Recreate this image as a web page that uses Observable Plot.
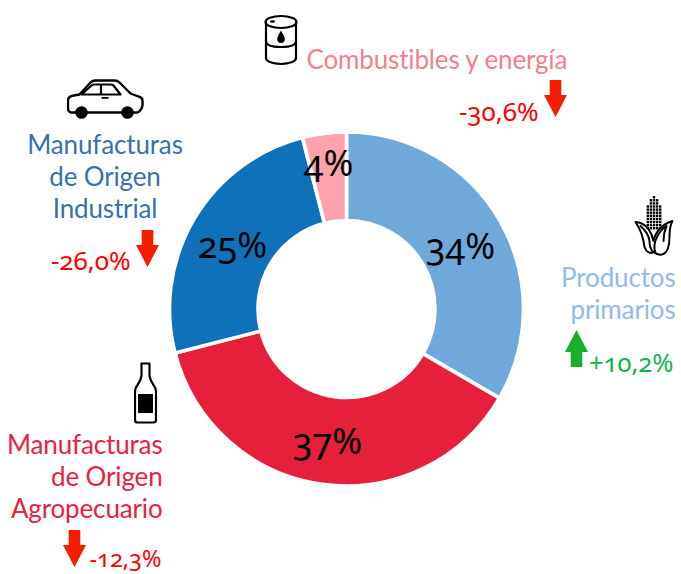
<!DOCTYPE html>
<html lang="es">
<head>
<meta charset="utf-8">
<script src="https://cdn.jsdelivr.net/npm/d3@7"></script>
<script src="https://cdn.jsdelivr.net/npm/@observablehq/plot@0.6"></script>
<style>
  html, body { margin: 0; padding: 0; background: #fff; }
  svg { display: block; }
  .num text { font-variant-numeric: oldstyle-nums; font-feature-settings: "onum" 1; }
  .name text { letter-spacing: -0.15px; }
</style>
</head>
<body>
<div id="chart"></div>
<script>
// ---- data ----
const categories = ["Productos primarios", "Manufacturas de Origen Agropecuario", "Manufacturas de Origen Industrial", "Combustibles y energía"];
const shares = [33.4, 37.6, 25, 4];
const shareLabels = ["34%", "37%", "25%", "4%"];
const changes = ["+10,2%", "-12,3%", "-26,0%", "-30,6%"];
const categoryLines = ["Productos\nprimarios", "Manufacturas\nde Origen\nAgropecuario", "Manufacturas\nde Origen\nIndustrial", "Combustibles y energía"];

// ---- styles and layout ----
const sliceColors = ["#6fa9dc", "#e61f3a", "#1071bb", "#ffa2ad"];
const nameColors = ["#8fbcea", "#e8223f", "#3b6eb5", "#f47f8e"];
const FONT = "Lato, sans-serif";
const NUMFONT = "'Noto Sans', sans-serif";
const center = [346.5, 309];
const radii = [88.5, 177];
const shareLayout = [[460, 258, 36], [327, 453, 36], [232, 257, 36], [328, 175, 36]];
const nameLayout = [
  {x: 675, y: 318, anchor: "end"},
  {x: 162, y: 517, anchor: "end"},
  {x: 104.5, y: 217, anchor: "middle"},
  {x: 306, y: 68, anchor: "start"}
];
const changeLayout = [
  {x: 673, y: 371, color: "#12b24c", size: 25.5},
  {x: 161, y: 566, color: "#ff0000", size: 23.5},
  {x: 130, y: 269, color: "#ff0000", size: 26},
  {x: 538, y: 120, color: "#ff0000", size: 26}
];
const arrowLayout = [
  {x: 576, top: 329, color: "#17b02c", up: true},
  {x: 74, top: 530, color: "#f51c00", up: false},
  {x: 147, top: 230, color: "#f51c00", up: false},
  {x: 555, top: 80, color: "#f51c00", up: false}
];

// ---- icons ----
const svgUri = (w, h, body) => "data:image/svg+xml," + encodeURIComponent(
  `<svg xmlns="http://www.w3.org/2000/svg" width="${w}" height="${h}" viewBox="0 0 ${w} ${h}">${body}</svg>`);
const line = (sw = 2.2) => `fill="none" stroke="#000" stroke-width="${sw}" stroke-linejoin="round" stroke-linecap="round"`;
const carIcon = svgUri(78, 42, `
  <path ${line(2.4)} d="M10 34 H4 Q1.500 33 1.500 30 V21 Q2 18 7 17 L13 16 L24 4 Q26 2 29 2 H48 Q51 2 53 4 L64 15 L72 18 Q76 19 76 22 V27 Q75 32 71 34 H67 M20 34 H56"/>
  <path ${line(2.2)} d="M15 16 H54 L47 7 Q46 6 44 6 H28 Q26 6 25 7 Z M34.500 6 V16"/>
  <rect x="35" y="18.500" width="7" height="1.800" fill="#000"/>
  <circle cx="15" cy="34" r="6.300" fill="#000"/>
  <circle cx="61" cy="34" r="6.300" fill="#000"/>`);
const barrelIcon = svgUri(34, 52, `
  <ellipse ${line()} cx="17" cy="8" rx="15.500" ry="6"/>
  <path ${line()} d="M2 8 V44 Q2 49 17 50 Q32 49 32 44 V8"/>
  <path ${line()} d="M2 27 Q2 33 17 33 Q32 33 32 27"/>
  <ellipse cx="8.500" cy="7.500" rx="2.500" ry="1.200" fill="#000"/>
  <path fill="#000" d="M17 16.500 Q21 23 20.800 25 A3.800 4 0 0 1 13.200 25 Q13 23 17 16.500 Z"/>`);
const cornRows = d3.range(0, 11).map(i => {
  const y = 1 + i * 3.1, half = i < 1 ? 0 : i < 3 ? 1 : 2;
  return d3.range(-half, half + 1).map(k => `<rect x="${19.3 + k * 3.1}" y="${y}" width="2.4" height="2.4" fill="#000"/>`).join("");
}).join("");
const cornIcon = svgUri(41, 62, cornRows + `
  <path ${line(2)} d="M2 27 Q9 27 15 34 Q19 40 20 46 Q21 40 26 34 Q32 28 39 26 Q36 31 36 42 Q36 56 30 59 Q25 61 20 57 Q14 60 11 52 Q9 37 2 27 Z"/>
  <path ${line(2)} d="M7 31 Q15 38 16 46 Q16 54 20 57 M22 58 Q19 50 24 41 Q28 34 33 31 Q30 38 30 46"/>`);
const bottleIcon = svgUri(24, 62, `
  <path ${line()} d="M8 1.500 H16 V14 Q17 19 20 23 Q22.500 26 22.500 30 V58 Q22.500 60.500 20 60.500 H4 Q1.500 60.500 1.500 58 V30 Q1.500 26 4 23 Q7 19 8 14 Z"/>
  <rect x="4.500" y="32" width="15" height="19" fill="#000"/>`);
const iconLayout = [
  {src: cornIcon, x: 653.5, y: 225.5, w: 41, h: 62},
  {src: bottleIcon, x: 145, y: 392.5, w: 24, h: 62},
  {src: carIcon, x: 105, y: 99, w: 78, h: 42},
  {src: barrelIcon, x: 280.5, y: 39.5, w: 34, h: 52}
];

// ---- table for the ring ----
const table = categories.map((category, i) => ({category, share: shares[i]}));

const textAt = (str, o) => Plot.text([str], {
  frameAnchor: "top-left", dx: o.x, dy: o.y, text: d => d,
  textAnchor: o.anchor ?? "end", lineAnchor: "bottom",
  fontSize: o.size, lineHeight: o.lh ?? 1, fill: o.color,
  fontFamily: o.font ?? FONT, className: o.cls
});

const arrowShape = {
  draw(ctx) {
    ctx.moveTo(0, -18.5); ctx.lineTo(11.5, 3.5); ctx.lineTo(5.8, 3.5); ctx.lineTo(5.8, 18.5);
    ctx.lineTo(-5.8, 18.5); ctx.lineTo(-5.8, 3.5); ctx.lineTo(-11.5, 3.5); ctx.closePath();
  }
};

const plot = Plot.plot({
  width: 681, height: 574,
  marginTop: 0, marginRight: 0, marginBottom: 0, marginLeft: 0,
  style: {background: "#fff", fontFamily: FONT},
  x: {domain: [0, d3.sum(shares)], range: [0, 2 * Math.PI], axis: null},
  color: {domain: categories, range: sliceColors},
  marks: [
    Plot.barX(table, Plot.stackX({
      x: "share", fill: "category", order: null,
      render(index, scales, values) {
        const g = d3.create("svg:g").attr("transform", `translate(${center})`);
        const arc = d3.arc().innerRadius(radii[0]).outerRadius(radii[1]);
        for (const i of index) {
          g.append("path")
            .attr("d", arc({startAngle: values.x1[i], endAngle: values.x2[i]}))
            .attr("fill", values.fill[i])
            .attr("stroke", "#fff")
            .attr("stroke-width", 3.6);
        }
        return g.node();
      }
    })),
    ...shareLabels.map((s, i) => textAt(s, {
      x: shareLayout[i][0], y: shareLayout[i][1], size: shareLayout[i][2],
      anchor: "middle", color: "#000", font: NUMFONT, cls: "num"
    })),
    ...categoryLines.map((s, i) => textAt(s, {
      ...nameLayout[i], size: 26, lh: 32 / 26, color: nameColors[i], cls: "name"
    })),
    ...changes.map((s, i) => textAt(s, {
      ...changeLayout[i], anchor: "end", font: NUMFONT, cls: "num"
    })),
    ...arrowLayout.map(a => Plot.vector([0], {
      frameAnchor: "top-left", dx: a.x, dy: a.top + 18.5,
      length: 1, shape: arrowShape, anchor: "middle",
      rotate: a.up ? 0 : 180, fill: a.color, stroke: "none"
    })),
    ...iconLayout.map(ic => Plot.image([0], {
      frameAnchor: "top-left", dx: ic.x, dy: ic.y,
      src: () => ic.src, width: ic.w, height: ic.h
    }))
  ]
});
document.getElementById("chart").append(plot);
</script>
</body>
</html>
